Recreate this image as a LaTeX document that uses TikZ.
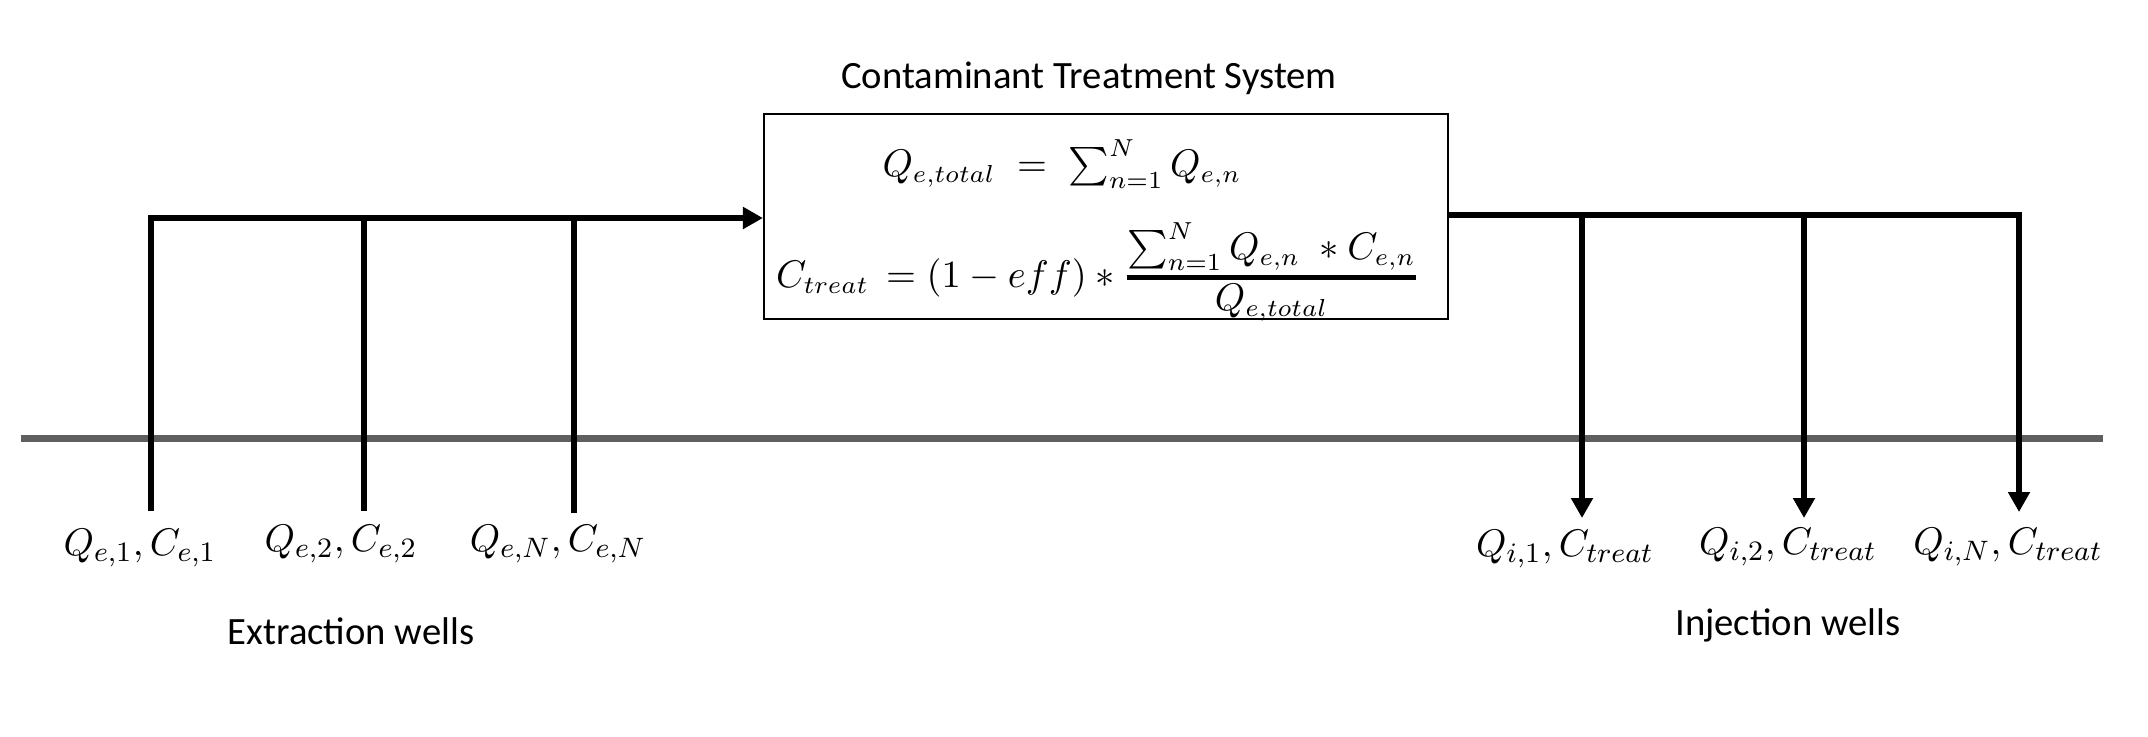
\documentclass[tikz,border=0pt]{standalone}
\usepackage{amsmath}
\usepackage{fontspec}
\setmainfont{Carlito}
\usepackage{xcolor}
\usepackage{tikz}
\usetikzlibrary{arrows.meta, positioning, calc}

\definecolor{groundgray}{RGB}{95,95,95}

\begin{document}
\begin{tikzpicture}[
    pipe/.style={line width=1.7pt},
    arr/.style={-{Triangle[length=0.2cm, width=0.21cm]}, line width=1.7pt},
    box/.style={draw, line width=0.6pt, minimum width=6.84cm,
                minimum height=2.05cm, inner sep=0pt},
    ground/.style={draw=groundgray, line width=1.9pt},
    lbl/.style={font=\fontsize{11}{13}\selectfont},
    eqlbl/.style={font=\fontsize{10.6}{12}\selectfont, inner sep=0pt},
    wlbl/.style={font=\fontsize{11}{13}\selectfont}
  ]
    \useasboundingbox (0,0) rectangle (21.48,-7.36);
    % treatment system
    \node[box] (sys) at (11.06,-2.165) {};
    \node[lbl] (title) at (10.89,-0.78) {Contaminant Treatment System};
    \node[eqlbl] (eqQ) at (10.62,-1.64)
      {$Q_{e,total} \;=\; \sum\nolimits_{n=1}^{N} Q_{e,n}$};
    \node[eqlbl] (eqC) at (10.98,-2.72)
      {$C_{treat} \,=(1-eff)*\genfrac{}{}{1.3pt}{1}{\textstyle\sum\nolimits_{n=1}^{N} Q_{e,n} \;*C_{e,n}}{\textstyle Q_{e,total}}$};
    % ground surface
    \coordinate (gl) at (0.21,-4.385);
    \coordinate (gr) at (21.03,-4.385);
    \draw[ground] (gl) -- (gr);
    % extraction wells
    \coordinate (e1) at (1.51,-2.18);  \coordinate (e1b) at (1.51,-5.11);
    \coordinate (e2) at (3.64,-2.18);  \coordinate (e2b) at (3.64,-5.11);
    \coordinate (e3) at (5.74,-2.18);  \coordinate (e3b) at (5.74,-5.13);
    \node[wlbl] (qe1) at (1.40,-5.48) {$Q_{e,1}, C_{e,1}$};
    \node[wlbl] (qe2) at (3.41,-5.44) {$Q_{e,2}, C_{e,2}$};
    \node[wlbl] (qe3) at (5.58,-5.44) {$Q_{e,N}, C_{e,N}$};
    \node[lbl] (extr) at (3.51,-6.31) {Extraction wells};
    \draw[arr] (e1b) -- (e1) -- (e1 -| sys.west);
    \draw[pipe] (e2) -- (e2b);
    \draw[pipe] (e3) -- (e3b);
    % injection wells
    \coordinate (i1) at (15.82,-2.15); \coordinate (i1b) at (15.82,-5.18);
    \coordinate (i2) at (18.04,-2.15); \coordinate (i2b) at (18.04,-5.18);
    \coordinate (i3) at (20.19,-2.15); \coordinate (i3b) at (20.19,-5.12);
    \node[wlbl] (qi1) at (15.65,-5.49) {$Q_{i,1}, C_{treat}$};
    \node[wlbl] (qi2) at (17.88,-5.47) {$Q_{i,2}, C_{treat}$};
    \node[wlbl] (qi3) at (20.08,-5.47) {$Q_{i,N}, C_{treat}$};
    \node[lbl] (inj) at (17.88,-6.25) {Injection wells};
    \draw[arr] (i1 -| sys.east) -- (i3) -- (i3b);
    \draw[arr] (i1) -- (i1b);
    \draw[arr] (i2) -- (i2b);
\end{tikzpicture}
\end{document}
